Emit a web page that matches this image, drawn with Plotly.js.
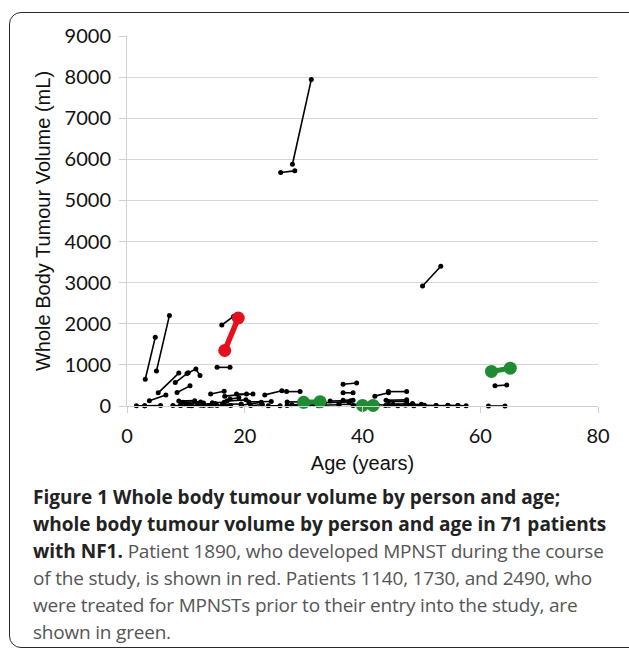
<!DOCTYPE html>
<html>
<head>
<meta charset="utf-8">
<script src="https://cdn.plot.ly/plotly-3.0.1.min.js"></script>
<style>
  html, body { margin:0; padding:0; background:#fff; width:629px; height:650px; overflow:hidden; }
  #frame { position:absolute; left:9px; top:12px; width:640px; height:636px; border:1.5px solid #2b2b2b; border-radius:12px; box-sizing:border-box; }
  #chart { position:absolute; left:0; top:0; width:629px; height:650px; }
  #caption { position:absolute; left:33px; top:484px; width:595px; font-family:"Open Sans", sans-serif; font-size:19px; line-height:27px; color:#555; letter-spacing:-0.2px; white-space:nowrap; }
  #caption b { color:#222; font-weight:700; letter-spacing:0px; }
</style>
</head>
<body>
<div id="frame"></div>
<div id="chart"></div>
<div id="caption"><b>Figure 1 Whole body tumour volume by person and age;<br>whole body tumour volume by person and age in 71 patients<br>with NF1.</b> Patient 1890, who developed MPNST during the course<br>of the study, is shown in red. Patients 1140, 1730, and 2490, who<br>were treated for MPNSTs prior to their entry into the study, are<br>shown in green.</div>
<script>
// Per-patient ages (years) and whole body tumour volumes (mL), black patients
const blackAges = [
  [3.1, 4.8], [5.0, 7.2], [16.1, 18.1], [15.3, 17.5], [26.1, 28.5], [28.1, 31.3],
  [50.2, 53.3], [5.3, 8.8], [8.2, 10.4], [10.2, 11.7, 12.4], [8.5, 10.7], [3.8, 6.6],
  [14.2, 16.5], [16.6, 20.3], [18.6, 21.4], [23.4, 26.3], [27.1, 29.4], [36.7, 39.0],
  [36.7, 38.4], [36.7, 38.4], [42.1, 44.4], [44.4, 47.5], [44.4, 47.5], [62.5, 64.5],
  [61.4, 64.2], [1.6, 3.0], [3.0, 5.7], [7.8, 9.1], [9.1, 10.5], [10.5, 12.5],
  [8.8, 11.5], [9.5, 12.5], [10.0, 13.0], [13.0, 14.5], [15.3, 17.6], [16.2, 19.4],
  [17.0, 20.2], [17.5, 19.0], [14.5, 16.5], [19.4, 22.8], [20.7, 24.5], [27.2, 30.3],
  [27.2, 29.4], [28.0, 30.5], [31.5, 33.5], [33.0, 36.0], [33.5, 37.7], [34.5, 38.0],
  [36.0, 39.5], [38.4, 40.5], [42.5, 44.5], [43.9, 47.3], [44.0, 47.5], [45.2, 48.5],
  [48.7, 50.5], [50.5, 52.5], [52.5, 54.5], [54.5, 56.2], [56.2, 57.6], [46.0, 48.7],
  [11.0, 14.0], [21.0, 23.0], [24.0, 26.0], [39.8, 42.5], [12.0, 15.0], [30.0, 32.5],
  [47.3, 50.0]
];
const blackVols = [
  [650, 1670], [850, 2200], [1970, 2180], [940, 940], [5680, 5720], [5880, 7940],
  [2920, 3400], [320, 800], [570, 810], [790, 900, 740], [330, 490], [130, 270],
  [290, 360], [240, 290], [290, 290], [270, 370], [350, 350], [530, 560],
  [320, 320], [140, 140], [240, 320], [350, 350], [110, 110], [490, 510],
  [0, 0], [5, 5], [5, 10], [10, 10], [20, 10], [10, 20],
  [120, 130], [90, 100], [60, 70], [10, 20], [10, 15], [40, 50],
  [120, 150], [170, 200], [80, 90], [20, 90], [100, 110], [10, 10],
  [100, 100], [30, 40], [60, 60], [20, 30], [80, 100], [120, 130],
  [40, 40], [10, 20], [30, 20], [10, 20], [140, 150], [40, 60],
  [10, 10], [20, 10], [10, 10], [20, 10], [10, 5], [5, 5],
  [5, 10], [10, 30], [5, 5], [5, 10], [40, 60], [5, 5],
  [30, 40]
];
// Patient 1890 (developed MPNST) - red
const redAges = [16.6, 18.9];
const redVols = [1350, 2140];
// Patients 1140, 1730, 2490 (treated for MPNST before entry) - green
const greenAges = [[30.0, 32.8], [40.0, 41.8], [61.9, 65.1]];
const greenVols = [[90, 105], [15, 15], [840, 920]];
const xTicks = [0, 20, 40, 60, 80];
const yTicks = [0, 1000, 2000, 3000, 4000, 5000, 6000, 7000, 8000, 9000];

function joinSegments(xs, ys) {
  const X = [], Y = [];
  xs.forEach((a, i) => { a.forEach((v, j) => { X.push(v); Y.push(ys[i][j]); }); X.push(null); Y.push(null); });
  return {X, Y};
}
const blk = joinSegments(blackAges, blackVols);
const grn = joinSegments(greenAges, greenVols);

const traces = [
  { x: blk.X, y: blk.Y, type: 'scatter', mode: 'lines+markers', connectgaps: false,
    line: { color: '#000', width: 1.6 }, marker: { color: '#000', size: 5 }, cliponaxis: false, hoverinfo: 'x+y' },
  { x: grn.X, y: grn.Y, type: 'scatter', mode: 'lines+markers', connectgaps: false,
    line: { color: '#1f8b33', width: 5 }, marker: { color: '#1f8b33', size: 13 }, cliponaxis: false },
  { x: redAges, y: redVols, type: 'scatter', mode: 'lines+markers',
    line: { color: '#e5101e', width: 5.5 }, marker: { color: '#e5101e', size: 13 }, cliponaxis: false }
];

const layout = {
  width: 629, height: 650,
  margin: { l: 127, r: 31, t: 36, b: 244 },
  paper_bgcolor: 'rgba(0,0,0,0)', plot_bgcolor: 'rgba(0,0,0,0)',
  showlegend: false,
  xaxis: {
    range: [0, 80], tickvals: xTicks, ticktext: xTicks.map(String),
    showgrid: false, zeroline: false, showline: true, linecolor: '#d0d0d0', linewidth: 1,
    ticks: 'outside', ticklen: 6, tickcolor: '#d0d0d0', ticklabelstandoff: 6,
    tickfont: { family: 'Lato, sans-serif', size: 20, color: '#111' },
    title: { text: 'Age (years)', font: { family: '"Liberation Sans", Arial, sans-serif', size: 20, color: '#111' }, standoff: 9 }
  },
  yaxis: {
    range: [0, 9000], tickvals: yTicks, ticktext: yTicks.map(String),
    showgrid: true, gridcolor: '#d6d6d6', gridwidth: 1, zeroline: false,
    showline: true, linecolor: '#d0d0d0', linewidth: 1,
    ticks: 'outside', ticklen: 7, tickcolor: '#d0d0d0', ticklabelstandoff: 4,
    tickfont: { family: 'Lato, sans-serif', size: 20, color: '#111' },
    title: { text: 'Whole Body Tumour Volume (mL)', font: { family: '"Liberation Sans", Arial, sans-serif', size: 20, color: '#111' }, standoff: 8 }
  }
};
Plotly.newPlot('chart', traces, layout, { displayModeBar: false, staticPlot: true });
</script>
</body>
</html>
